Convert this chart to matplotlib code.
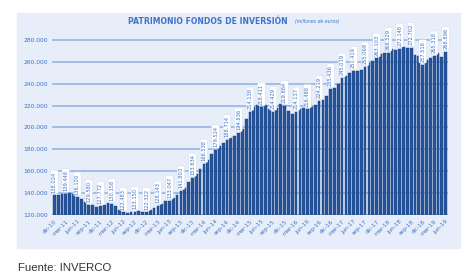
import matplotlib.pyplot as plt
from matplotlib.patches import Rectangle

# patrimonio mensual, millones de euros (dic-10 .. jun-19)
values = [
    138024,
    138510, 139180, 139448, 139720, 139010, 136120, 134250, 131480, 129580, 128960, 127010, 127772,
    129480, 131020, 130158, 128040, 124510, 122483, 121790, 122470, 123150, 123260, 122810, 122322,
    124480, 126530, 128143, 130020, 132480, 133047, 135520, 138480, 141803, 145010, 150020, 153834,
    157030, 162010, 166538, 170480, 176020, 179524, 183010, 186020, 188714, 190030, 192510, 194836,
    199020, 208010, 214138, 218540, 220530, 218411, 220480, 217010, 214429, 217520, 221480, 219864,
    215010, 212520, 214137, 216480, 218020, 216488, 219010, 221020, 224219, 225510, 228520, 235436,
    236520, 240010, 245019, 247520, 250020, 251419, 252010, 253020, 255069, 258530, 261020, 263103,
    267010, 268020, 268529, 272010, 271020, 272148, 273510, 272520, 272702, 266020, 265010, 257518,
    261520, 263510, 265318, 268020, 264010, 268896,
]
months = ['ene', 'feb', 'mar', 'abr', 'may', 'jun', 'jul', 'ago', 'sep', 'oct', 'nov', 'dic']
labels = ['dic-10'] + [f'{m}-{y}' for y in range(11, 20) for m in months][:102]

def fmt(v):
    return f'{v:,}'.replace(',', '.')

blue_txt = '#3f72c8'
fig = plt.figure(figsize=(4.76, 2.8), dpi=100)
fig.patches.append(Rectangle((17 / 476, 1 - 248 / 280), 443 / 476, 235 / 280,
                             transform=fig.transFigure, color='#e7eef9', zorder=-10))

ax = fig.add_axes([52 / 476, 1 - 215 / 280, 396 / 476, 185 / 280])
ax.set_facecolor('none')
x = list(range(len(values)))
ax.bar(x, values, width=0.72, color='#26539b', edgecolor='#1b4280', linewidth=0.3, zorder=2)
ax.set_xlim(-0.6, len(values) - 0.4)
ax.set_ylim(120000, 289140)

for yv in range(120000, 281000, 20000):
    ax.axhline(yv, color='#8fb0e2', linewidth=1.1, zorder=1)

ax.set_yticks(range(120000, 281000, 20000))
ax.set_yticklabels([fmt(v) for v in range(120000, 281000, 20000)], fontsize=4.3, color=blue_txt)
ax.set_xticks(x[::3])
ax.set_xticklabels(labels[::3], rotation=45, ha='right', fontsize=4.1, color=blue_txt,
                   rotation_mode='anchor')
ax.tick_params(length=0, pad=3)
for s in ax.spines.values():
    s.set_visible(False)

for i in x[::3]:
    ax.annotate(fmt(values[i]), (i, values[i]), xytext=(0, 2), textcoords='offset points',
                rotation=90, ha='center', va='bottom', fontsize=3.7, color=blue_txt,
                bbox=dict(boxstyle='round,pad=0.25', fc='white', ec='#c8d8f0', lw=0.3),
                zorder=3, annotation_clip=False)

fig.text(128 / 476, 1 - 21 / 280, 'PATRIMONIO FONDOS DE INVERSIÓN', fontsize=5.6,
         fontweight='bold', color=blue_txt, va='center', ha='left')
fig.text(295 / 476, 1 - 21 / 280, '(millones de euros)', fontsize=3.3, style='italic',
         color=blue_txt, va='center', ha='left')
fig.text(18 / 476, 1 - 268 / 280, 'Fuente: INVERCO', fontsize=8.2, color='#333333',
         family='Liberation Sans', va='center', ha='left')

fig.savefig('out.png', dpi=100)
